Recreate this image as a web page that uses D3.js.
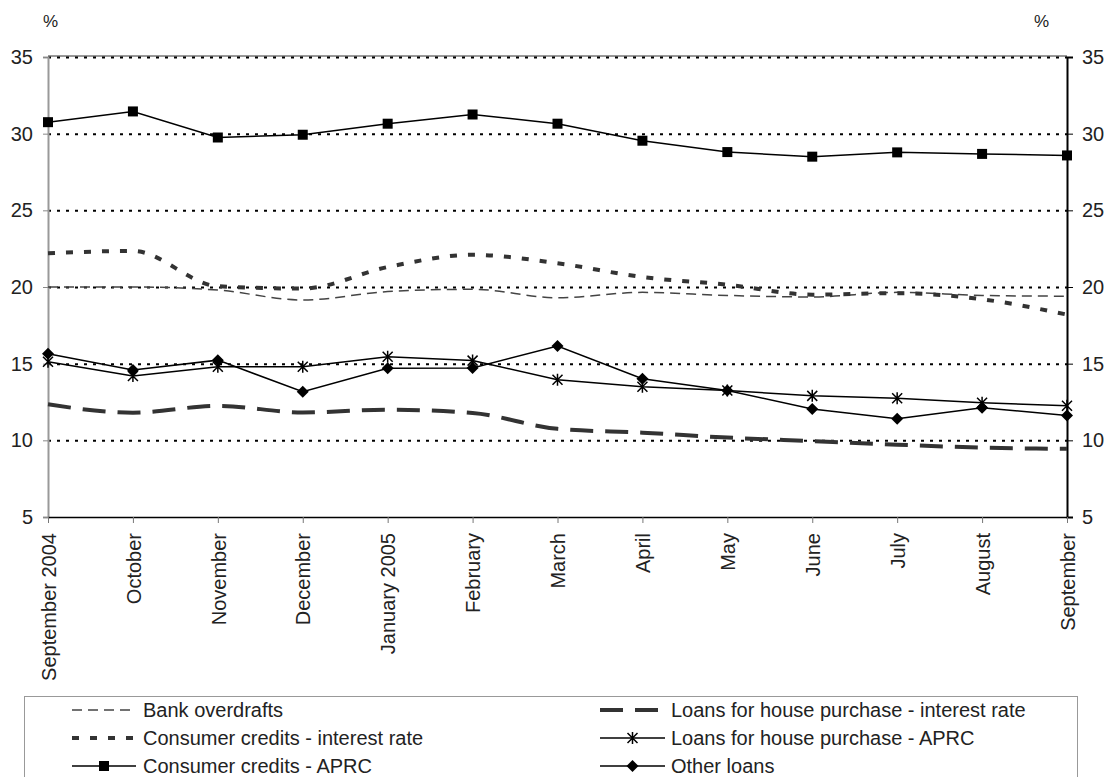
<!DOCTYPE html>
<html><head><meta charset="utf-8">
<script src="https://cdn.jsdelivr.net/npm/d3@7"></script>
<style>body{margin:0;background:#fff}svg{display:block;font-family:"Liberation Sans",Arial,sans-serif}</style>
</head><body><svg id="c" width="1111" height="777"></svg>
<script>
const months = ["September 2004","October","November","December","January 2005","February","March","April","May","June","July","August","September"];
const yTicks = [5,10,15,20,25,30,35];
const gridTicks = [10,15,20,25,30,35];
const bankOverdrafts = [20.0,20.0,19.8,19.15,19.7,19.85,19.3,19.65,19.45,19.35,19.65,19.45,19.4];
const consumerRate = [22.2,22.35,20.05,19.9,21.3,22.1,21.55,20.65,20.15,19.5,19.6,19.2,18.2];
const consumerAPRC = [30.75,31.45,29.75,29.93,30.65,31.25,30.65,29.54,28.8,28.5,28.78,28.68,28.58];
const houseRate = [12.35,11.8,12.25,11.82,12.0,11.78,10.75,10.5,10.18,9.95,9.72,9.52,9.45];
const houseAPRC = [15.13,14.2,14.8,14.8,15.45,15.2,13.95,13.5,13.25,12.9,12.75,12.45,12.25];
const otherLoans = [15.65,14.58,15.23,13.17,14.7,14.72,16.15,14.02,13.25,12.05,11.4,12.13,11.62];
const seriesNames = ["Bank overdrafts","Loans for house purchase - interest rate","Consumer credits - interest rate","Loans for house purchase - APRC","Consumer credits - APRC","Other loans"];

const svg = d3.select("#c");
const x = d3.scalePoint().domain(months).range([48,1067]);
const y = d3.scaleLinear().domain([5,35]).range([517,57]);

// gridlines
svg.append("line").attr("x1",48).attr("x2",1067).attr("y1",y(35)-1).attr("y2",y(35)-1).attr("stroke","#333").attr("stroke-width",1);
svg.append("g").selectAll("line").data(gridTicks).join("line")
  .attr("x1",48).attr("x2",1067).attr("y1",d=>y(d)+0.5).attr("y2",d=>y(d)+0.5)
  .attr("stroke","#000").attr("stroke-width",2).attr("stroke-dasharray","3,6");

// axes
const left = svg.append("g").attr("transform","translate(48,0)").call(d3.axisLeft(y).tickValues(yTicks).tickSize(5).tickPadding(10));
left.select(".domain").attr("stroke","#999").attr("stroke-width",2);
left.selectAll(".tick line").attr("stroke","#888");
left.selectAll("text").attr("font-size",20).attr("fill","#222").attr("font-family","Liberation Sans, Arial");
const right = svg.append("g").attr("transform","translate(1067,0)").call(d3.axisRight(y).tickValues(yTicks).tickSize(6).tickPadding(9));
right.select(".domain").attr("stroke","#000").attr("stroke-width",2);
right.selectAll("text").attr("font-size",20).attr("fill","#222").attr("font-family","Liberation Sans, Arial");
const bottom = svg.append("g").attr("transform","translate(0,517)").call(d3.axisBottom(x).tickSize(6).tickSizeOuter(0));
bottom.select(".domain").attr("stroke","#000").attr("stroke-width",1.5);
bottom.selectAll(".tick line").attr("stroke","#777");
bottom.selectAll("text").attr("font-size",20).attr("fill","#222").attr("font-family","Liberation Sans, Arial")
  .attr("text-anchor","end").attr("transform","rotate(-90)").attr("x",-16).attr("y",0).attr("dy","0.36em");

svg.append("text").attr("x",43).attr("y",27).attr("font-size",17).attr("fill","#222").text("%");
svg.append("text").attr("x",1034).attr("y",27).attr("font-size",17).attr("fill","#222").text("%");

const smooth = d3.line().x((d,i)=>x(months[i])).y(d=>y(d)).curve(d3.curveMonotoneX);
const straight = d3.line().x((d,i)=>x(months[i])).y(d=>y(d));

const styles = {
  bank:{stroke:"#444",w:1.5,dash:"10,6"},
  houseRate:{stroke:"#333",w:4,dash:"23,12"},
  consRate:{stroke:"#333",w:4,dash:"7,11"},
  solid:{stroke:"#000",w:1.5,dash:null}
};
function path(data, gen, st){
  svg.append("path").attr("d",gen(data)).attr("fill","none").attr("stroke",st.stroke)
    .attr("stroke-width",st.w).attr("stroke-dasharray",st.dash);
}
path(bankOverdrafts, smooth, styles.bank);
path(consumerRate, smooth, styles.consRate);
path(houseRate, smooth, styles.houseRate);
path(consumerAPRC, straight, styles.solid);
path(houseAPRC, straight, styles.solid);
path(otherLoans, straight, styles.solid);

function marker(g, type, cx, cy){
  if(type==="square") g.append("rect").attr("x",cx-5).attr("y",cy-5).attr("width",10).attr("height",10).attr("fill","#000");
  else if(type==="diamond") g.append("path").attr("d",`M${cx},${cy-6}L${cx+6},${cy}L${cx},${cy+6}L${cx-6},${cy}Z`).attr("fill","#000");
  else if(type==="star") g.append("path").attr("d",`M${cx-5},${cy-5}L${cx+5},${cy+5}M${cx-5},${cy+5}L${cx+5},${cy-5}M${cx},${cy-6}L${cx},${cy+6}`).attr("stroke","#000").attr("stroke-width",1.5);
}
const mg = svg.append("g");
consumerAPRC.forEach((v,i)=>marker(mg,"square",x(months[i]),y(v)));
houseAPRC.forEach((v,i)=>marker(mg,"star",x(months[i]),y(v)));
otherLoans.forEach((v,i)=>marker(mg,"diamond",x(months[i]),y(v)));

// legend
const lg = svg.append("g");
lg.append("rect").attr("x",24.5).attr("y",696.5).attr("width",1053).attr("height",100).attr("fill","none").attr("stroke","#999").attr("stroke-width",1);
const legendItems = [
  {name:seriesNames[0],st:styles.bank,m:null,col:0,row:0},
  {name:seriesNames[1],st:styles.houseRate,m:null,col:1,row:0},
  {name:seriesNames[2],st:styles.consRate,m:null,col:0,row:1},
  {name:seriesNames[3],st:styles.solid,m:"star",col:1,row:1},
  {name:seriesNames[4],st:styles.solid,m:"square",col:0,row:2},
  {name:seriesNames[5],st:styles.solid,m:"diamond",col:1,row:2}
];
const colX = [[72,136,143],[600,665,671]];
const rowY = [710,738,766];
legendItems.forEach(it=>{
  const [x1,x2,tx] = colX[it.col]; const yy = rowY[it.row];
  lg.append("line").attr("x1",x1).attr("x2",x2).attr("y1",yy).attr("y2",yy).attr("stroke",it.st.stroke)
    .attr("stroke-width",it.st.w).attr("stroke-dasharray",it.st.dash);
  if(it.m) marker(lg,it.m,(x1+x2)/2,yy);
  lg.append("text").attr("x",tx).attr("y",yy).attr("dy","0.35em").attr("font-size",20).attr("fill","#222").text(it.name);
});
</script></body></html>
